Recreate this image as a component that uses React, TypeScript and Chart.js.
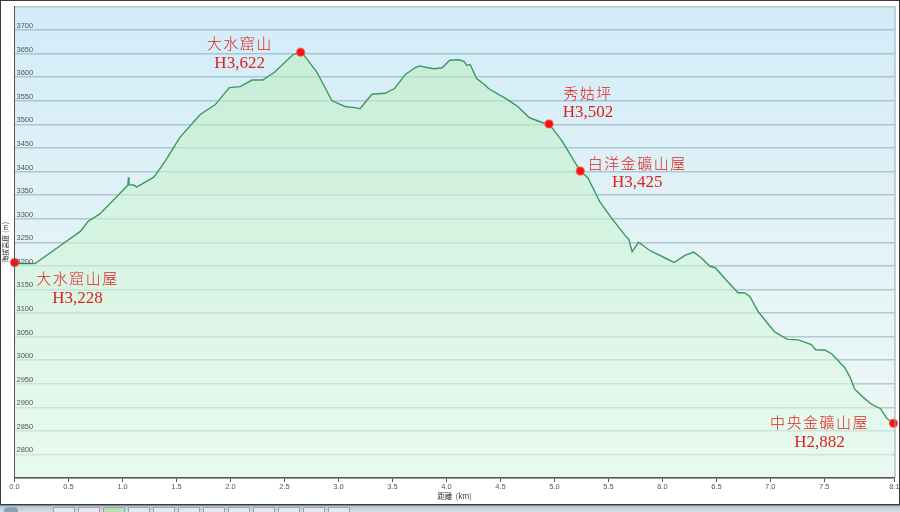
import React, { useEffect, useRef } from 'react';
import { Chart, registerables } from 'chart.js';

Chart.register(...registerables);

// ---- data ----
const distanceKm = [
  0, 0.19, 0.42, 0.61, 0.68, 0.79, 1.05, 1.055, 1.06, 1.11, 1.13, 1.29, 1.39, 1.53, 1.72, 1.86, 1.99,
  2.09, 2.2, 2.3, 2.41, 2.58, 2.65, 2.67, 2.8, 2.94, 3.06, 3.17, 3.2, 3.31, 3.43, 3.52, 3.62, 3.71,
  3.75, 3.83, 3.89, 3.96, 4.03, 4.11, 4.16, 4.19, 4.22, 4.28, 4.36, 4.39, 4.57, 4.66, 4.77, 4.9,
  4.95, 5.07, 5.24, 5.31, 5.42, 5.53, 5.66, 5.69, 5.72, 5.78, 5.88, 6.04, 6.11, 6.21, 6.29, 6.36,
  6.44, 6.49, 6.61, 6.7, 6.76, 6.81, 6.89, 6.95, 7.04, 7.16, 7.26, 7.38, 7.42, 7.51, 7.57, 7.69,
  7.74, 7.78, 7.86, 7.94, 8.02, 8.08, 8.14,
];
const elevationM = [
  3205, 3205, 3242, 3273, 3294, 3310, 3371, 3388, 3372, 3371, 3367, 3388, 3420, 3472, 3521, 3542, 3578,
  3580, 3594, 3594, 3611, 3648, 3653, 3650, 3611, 3550, 3538, 3535, 3533, 3564, 3566, 3576, 3606, 3620,
  3624, 3620, 3618, 3620, 3636, 3637, 3634, 3625, 3627, 3597, 3583, 3576, 3552, 3538, 3514, 3503,
  3501, 3465, 3401, 3387, 3336, 3301, 3263, 3256, 3230, 3250, 3233, 3215, 3207, 3222, 3229, 3217,
  3199, 3196, 3165, 3143, 3143, 3135, 3102, 3085, 3060, 3044, 3043, 3033, 3022, 3021, 3013, 2984,
  2963, 2939, 2921, 2906, 2897, 2876, 2866,
];

const markerKm = [0, 2.65, 4.95, 5.24, 8.14];
const markerElev = [3207, 3653, 3501, 3401, 2866];
const markerNames = ['大水窟山屋', '大水窟山', '秀姑坪', '白洋金礦山屋', '中央金礦山屋'];
const markerHeights = ['H3,228', 'H3,622', 'H3,502', 'H3,425', 'H2,882'];

const xTickValues = [0, 0.5, 1, 1.5, 2, 2.5, 3, 3.5, 4, 4.5, 5, 5.5, 6, 6.5, 7, 7.5, 8.15];
const xTickLabels = ['0.0', '0.5', '1.0', '1.5', '2.0', '2.5', '3.0', '3.5', '4.0', '4.5', '5.0', '5.5', '6.0', '6.5', '7.0', '7.5', '8.1'];
const yHiddenTicks = [2750, 3750];

const X_MIN = 0;
const X_MAX = 8.15;
const Y_MIN = 2750;
const Y_MAX = 3750;
const Y_STEP = 50;

const yAxisTitle = '海拔高度 (m)';
const xAxisTitle = '距離  (km)';

// ---- layout / style (label offsets from marker pixel) ----
const labelOffsets = [
  { dx: 63, dy1: 16, dy2: 36 },
  { dx: -61, dy1: -9, dy2: 11 },
  { dx: 39, dy1: -31, dy2: -11 },
  { dx: 57, dy1: -8, dy2: 11 },
  { dx: -74, dy1: -1, dy2: 19 },
];
const LABEL_RED = '#e0221e';

const bgPlugin = {
  id: 'bgPlugin',
  beforeDraw(chart: any) {
    const { ctx, chartArea: a } = chart;
    if (!a) return;
    const g = ctx.createLinearGradient(0, a.top, 0, a.bottom);
    g.addColorStop(0, '#d2ecf8');
    g.addColorStop(0.5, '#e3f3f6');
    g.addColorStop(1, '#eff9f5');
    ctx.save();
    ctx.fillStyle = g;
    ctx.fillRect(a.left, a.top, a.right - a.left, a.bottom - a.top);
    ctx.restore();
  },
  afterDraw(chart: any) {
    const { ctx, chartArea: a } = chart;
    ctx.save();
    ctx.strokeStyle = '#8fa3ad';
    ctx.lineWidth = 1;
    ctx.beginPath();
    ctx.moveTo(a.right + 0.5, a.top);
    ctx.lineTo(a.right + 0.5, a.bottom);
    ctx.stroke();
    ctx.restore();
  },
};

const labelPlugin = {
  id: 'labelPlugin',
  afterDraw(chart: any) {
    const { ctx } = chart;
    const xs = chart.scales.x;
    const ys = chart.scales.y;
    ctx.save();
    ctx.fillStyle = LABEL_RED;
    ctx.textAlign = 'center';
    ctx.textBaseline = 'middle';
    markerKm.forEach((km, i) => {
      const px = xs.getPixelForValue(km);
      const py = ys.getPixelForValue(markerElev[i]);
      const o = labelOffsets[i];
      ctx.font = '300 15px "Noto Sans CJK TC", "Noto Sans CJK SC", sans-serif';
      (ctx as any).letterSpacing = '1.5px';
      ctx.fillText(markerNames[i], px + o.dx, py + o.dy1);
      (ctx as any).letterSpacing = '0px';
      ctx.font = '17px "Liberation Serif", "DejaVu Serif", serif';
      ctx.fillText(markerHeights[i], px + o.dx, py + o.dy2);
    });
    ctx.restore();
  },
};

export default function App() {
  const canvasRef = useRef<HTMLCanvasElement | null>(null);

  useEffect(() => {
    document.body.style.margin = '0';
    const canvas = canvasRef.current;
    if (!canvas) return;
    const chart = new Chart(canvas, {
      type: 'line',
      data: {
        datasets: [
          {
            label: 'markers',
            data: markerKm.map((x, i) => ({ x, y: markerElev[i] })),
            showLine: false,
            pointRadius: 4,
            pointBackgroundColor: '#ff1010',
            pointBorderColor: 'rgba(255,70,70,0.55)',
            pointBorderWidth: 1.5,
            fill: false,
            clip: false as any,
            order: 0,
          },
          {
            label: 'elevation',
            data: distanceKm.map((x, i) => ({ x, y: elevationM[i] })),
            borderColor: '#3b9860',
            borderWidth: 1.4,
            pointRadius: 0,
            tension: 0,
            fill: 'start',
            backgroundColor: (c: any) => {
              const a = c.chart.chartArea;
              if (!a) return 'rgba(205,245,210,0.55)';
              const g = c.chart.ctx.createLinearGradient(0, a.top, 0, a.bottom);
              g.addColorStop(0, 'rgba(183,236,184,0.55)');
              g.addColorStop(0.5, 'rgba(205,245,210,0.55)');
              g.addColorStop(1, 'rgba(228,251,236,0.55)');
              return g;
            },
            order: 1,
          },
        ],
      },
      options: {
        responsive: false,
        animation: false,
        layout: { padding: { left: 0, right: 4, top: 0, bottom: 0 } },
        plugins: {
          legend: { display: false },
          tooltip: { enabled: false },
        },
        scales: {
          x: {
            type: 'linear',
            min: X_MIN,
            max: X_MAX,
            afterBuildTicks: (scale: any) => {
              scale.ticks = xTickValues.map((v) => ({ value: v }));
            },
            afterFit: (scale: any) => {
              scale.height = 26;
            },
            ticks: {
              autoSkip: false,
              maxRotation: 0,
              padding: 0,
              color: '#555',
              font: { family: '"Liberation Sans", sans-serif', size: 7.5 },
              callback: (_v: any, idx: number) => xTickLabels[idx],
            },
            grid: {
              drawOnChartArea: false,
              drawTicks: true,
              tickLength: 4,
              color: '#555',
              tickColor: '#555',
            },
            border: { display: true, color: '#555', width: 1.5, z: 2 },
            title: {
              display: true,
              text: xAxisTitle,
              color: '#333',
              font: { family: '"Noto Sans CJK TC", sans-serif', size: 7.5 },
              padding: { top: 0, bottom: 3 },
            },
          },
          y: {
            type: 'linear',
            min: Y_MIN,
            max: Y_MAX,
            afterFit: (scale: any) => {
              scale.width = 14.5;
            },
            ticks: {
              stepSize: Y_STEP,
              mirror: true,
              padding: 2,
              labelOffset: -4,
              z: 2,
              color: '#555',
              font: { family: '"Liberation Sans", sans-serif', size: 7.5 },
              callback: (v: any) => (yHiddenTicks.includes(v) ? '' : String(v)),
            },
            grid: {
              drawTicks: false,
              color: 'rgba(130,165,182,0.55)',
              lineWidth: 1.5,
            },
            border: { display: true, color: '#555', width: 1, z: 2 },
            title: {
              display: true,
              text: yAxisTitle,
              color: '#333',
              font: { family: '"Noto Sans CJK TC", sans-serif', size: 7 },
              padding: { top: 1, bottom: 0 },
            },
          },
        },
      },
      plugins: [bgPlugin, labelPlugin],
    } as any);
    return () => chart.destroy();
  }, []);

  const buttons = Array.from({ length: 12 }, (_, i) => i);

  return (
    <div style={{ position: 'fixed', left: 0, top: 0, width: 900, height: 512, background: '#fff', overflow: 'hidden' }}>
      <canvas ref={canvasRef} width={900} height={504} style={{ position: 'absolute', left: 0, top: 0, width: 900, height: 504 }} />
      <div
        style={{
          position: 'absolute',
          left: 0,
          top: 0,
          width: 900,
          height: 505,
          border: '1px solid #3c3c3c',
          boxSizing: 'border-box',
          pointerEvents: 'none',
        }}
      />
      <div
        style={{
          position: 'absolute',
          left: 0,
          top: 505,
          width: 900,
          height: 7,
          background: 'linear-gradient(#b9c3cf, #d7dde5)',
          borderTop: '1px solid #7d8794',
          boxSizing: 'border-box',
        }}
      >
        <div style={{ position: 'absolute', left: 4, top: 1, width: 14, height: 8, borderRadius: 7, background: '#8aa0b8' }} />
        {buttons.map((i) => (
          <div
            key={i}
            style={{
              position: 'absolute',
              left: 53 + i * 25,
              top: 1,
              width: 22,
              height: 6,
              background: i === 2 ? '#b6e0b0' : '#e4e8ee',
              border: '1px solid #9aa4b0',
              boxSizing: 'border-box',
            }}
          />
        ))}
      </div>
    </div>
  );
}
